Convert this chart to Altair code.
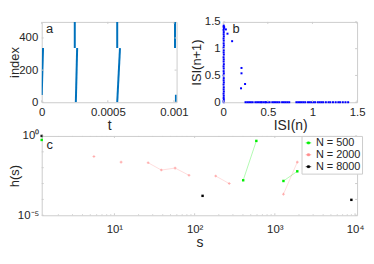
import altair as alt
import pandas as pd

FONT = "Liberation Sans"
TXT = "#262626"
BOX = "#cccccc"
LBL = 11.5

# ---------------- Panel a: raster-like spike lines ----------------
a_seg = [1, 1, 2, 2, 3, 3, 4, 4, 5, 5, 6, 6, 7, 7]
a_k = [0, 1, 0, 1, 0, 1, 0, 1, 0, 1, 0, 1, 0, 1]
a_t = [0.0, 0.00001, 0.00025, 0.00025, 0.000258, 0.000268, 0.000571, 0.000571,
       0.000571, 0.000592, 0.001008, 0.001008, 0.001015, 0.001015]
a_index = [45, 337, 337, 500, 0, 337, 337, 500, 0, 337, 337, 500, 0, 47]
a_xticks = [0, 0.0005, 0.001]
a_yticks = [0, 200, 400]

# ---------------- Panel b: return map ----------------
b_col_x = [0.006, 0.004, 0.007, 0.005, 0.006, 0.004, 0.007, 0.005, 0.006, 0.004,
           0.007, 0.005, 0.006, 0.004, 0.007, 0.005, 0.006, 0.004, 0.007, 0.005,
           0.006, 0.004, 0.007, 0.005, 0.006, 0.004, 0.007, 0.005, 0.006, 0.004,
           0.007, 0.005, 0.006, 0.004, 0.007, 0.005, 0.006]
b_col_y = [0.0, 0.02, 0.05, 0.08, 0.12, 0.16, 0.20, 0.24, 0.28, 0.33,
           0.37, 0.41, 0.45, 0.50, 0.54, 0.58, 0.63, 0.67, 0.71, 0.76,
           0.80, 0.84, 0.89, 0.93, 0.97, 1.02, 1.06, 1.10, 1.15, 1.19,
           1.23, 1.27, 1.31, 1.35, 1.38, 1.41, 1.43]
b_mid_x = [0.011, 0.03, 0.048, 0.10, 0.205, 0.205, 0.20, 0.245]
b_mid_y = [1.40, 1.36, 1.28, 1.14, 0.64, 0.54, 0.26, 0.34]
b_row_x = [0.25, 0.27, 0.29, 0.31, 0.33, 0.36, 0.38, 0.40, 0.42, 0.43, 0.45, 0.47,
           0.48, 0.50, 0.52, 0.55, 0.57, 0.59, 0.61, 0.63, 0.66, 0.68, 0.70, 0.72,
           0.74, 0.82, 0.84, 0.86, 0.88, 0.90, 0.92, 0.95, 0.97, 0.99, 1.01, 1.03,
           1.06, 1.08, 1.10, 1.12, 1.15, 1.18, 1.20, 1.23, 1.26, 1.29, 1.31, 1.34,
           1.37, 1.40]
b_row_y = [0.0, 0.0, 0.0, 0.0, 0.0, 0.0, 0.0, 0.0, 0.0, 0.0, 0.0, 0.0,
           0.0, 0.0, 0.0, 0.0, 0.0, 0.0, 0.0, 0.0, 0.0, 0.0, 0.0, 0.0,
           0.0, 0.0, 0.0, 0.0, 0.0, 0.0, 0.0, 0.0, 0.0, 0.0, 0.0, 0.0,
           0.0, 0.0, 0.0, 0.0, 0.0, 0.0, 0.0, 0.0, 0.0, 0.0, 0.0, 0.0,
           0.0, 0.0]
b_ticks = [0, 0.5, 1, 1.5]

# ---------------- Panel c: h(s) ----------------
s500 = [1.24, 403, 588, 1280, 1905]
h500 = [0.56, 0.00161, 0.487, 0.00145, 0.0059]
g500 = [1, 2, 2, 3, 3]
s2000 = [5.55, 12.1, 26.3, 38.4, 57.1, 85.1, 183, 270, 1280, 1905]
h2000 = [0.0508, 0.0224, 0.0205, 0.00708, 0.00944, 0.00331, 0.00298, 0.001, 0.000214, 0.0224]
g2000 = [1, 2, 3, 3, 3, 3, 4, 4, 5, 5]
s8000 = [1.24, 125.6, 9000]
h8000 = [1.0, 0.000168, 0.000094]
g8000 = [1, 2, 3]
series_names = ["N = 500", "N = 2000", "N = 8000"]
series_colors = ["#00ee00", "#ff8c8c", "#000000"]
c_major_x = [10, 100, 1000, 10000]
c_minor_x = [2, 3, 4, 5, 6, 7, 8, 9, 20, 30, 40, 50, 60, 70, 80, 90,
             200, 300, 400, 500, 600, 700, 800, 900,
             2000, 3000, 4000, 5000, 6000, 7000, 8000, 9000]
c_yticks = [1, 0.1, 0.01, 0.001, 0.0001, 0.00001]


def tick_layers(xvals, yvals, xscale, yscale, xaxis, yaxis, W, H, L):
    layers = []
    if xvals:
        dx = pd.DataFrame({"v": xvals})
        for y0, y1 in ((H, H - L), (0, L)):
            layers.append(alt.Chart(dx).mark_rule(color=BOX, strokeWidth=1).encode(
                x=alt.X("v:Q", scale=xscale, axis=xaxis),
                y=alt.value(y0), y2=alt.value(y1)))
    if yvals:
        dy = pd.DataFrame({"v": yvals})
        for x0, x1 in ((0, L), (W, W - L)):
            layers.append(alt.Chart(dy).mark_rule(color=BOX, strokeWidth=1).encode(
                y=alt.Y("v:Q", scale=yscale, axis=yaxis),
                x=alt.value(x0), x2=alt.value(x1)))
    return layers


def panel_label(txt, x, y):
    return alt.Chart(pd.DataFrame({"lab": [txt]})).mark_text(
        font=FONT, fontSize=13, color=TXT, align="center", baseline="middle"
    ).encode(x=alt.value(x), y=alt.value(y), text="lab:N")


XT = dict(titleFontSize=14)
YT = dict(titleFontSize=13)

# ----- panel a chart
AW, AH = 136, 81
ax_scale = alt.Scale(domain=[0, 0.00102], nice=False, zero=False)
ay_scale = alt.Scale(domain=[0, 500], nice=False)
ax_axis = alt.Axis(title="t", values=a_xticks, labelPadding=4, titlePadding=1, **XT,
                   labelExpr="datum.value == 0 ? '0' : datum.value < 0.0007 ? '0.0005' : '0.001'")
ay_axis = alt.Axis(title="index", values=a_yticks, labelPadding=4, titleX=-20.5, **YT)
df_a = pd.DataFrame({"t": a_t, "index": a_index, "seg": a_seg, "k": a_k})
a_lines = alt.Chart(df_a).mark_line(color="#0072BD", strokeWidth=2, clip=True).encode(
    x=alt.X("t:Q", scale=ax_scale, axis=ax_axis),
    y=alt.Y("index:Q", scale=ay_scale, axis=ay_axis),
    detail="seg:N",
    order="k:Q",
)
panel_a = alt.layer(a_lines,
                    *tick_layers(a_xticks, a_yticks, ax_scale, ay_scale, ax_axis, ay_axis, AW, AH, 2),
                    panel_label("a", 8, 7)).properties(width=AW, height=AH)

# ----- panel b chart
BW, BH = 135, 81
bx_scale = alt.Scale(domain=[0, 1.5], nice=False)
by_scale = alt.Scale(domain=[0, 1.5], nice=False)
bx_axis = alt.Axis(title="ISI(n)", values=b_ticks, format="~g", labelPadding=4, titlePadding=1, **XT)
by_axis = alt.Axis(title="ISI(n+1)", values=b_ticks, format="~g", labelPadding=3, titleX=-20, **YT)
df_b = pd.DataFrame({"x": b_col_x + b_mid_x + b_row_x, "y": b_col_y + b_mid_y + b_row_y})
b_pts = alt.Chart(df_b).mark_square(color="#0000ff", size=4, opacity=1).encode(
    x=alt.X("x:Q", scale=bx_scale, axis=bx_axis),
    y=alt.Y("y:Q", scale=by_scale, axis=by_axis),
)
panel_b = alt.layer(b_pts,
                    *tick_layers(b_ticks, b_ticks, bx_scale, by_scale, bx_axis, by_axis, BW, BH, 2),
                    panel_label("b", 13, 7)).properties(width=BW, height=BH)

# ----- panel c chart
CW, CH = 318, 80
cx_scale = alt.Scale(type="log", domain=[1.24, 10600], nice=False)
cy_scale = alt.Scale(type="log", domain=[0.00001, 1], nice=False)
cx_axis = alt.Axis(
    title="s", values=c_major_x, labelOverlap=False, labelPadding=8, titlePadding=1, **XT,
    labelExpr="datum.value == 10 ? '10¹' : datum.value == 100 ? '10²' : datum.value == 1000 ? '10³' : '10⁴'")
cy_axis = alt.Axis(
    title="h(s)", values=c_yticks, labelOverlap=False, labelPadding=3, titleX=-20.5, **YT,
    labelExpr="datum.value > 0.5 ? '10⁰' : datum.value < 0.00002 ? '10⁻⁵' : ''")
df_c = pd.concat([
    pd.DataFrame({"s": s500, "h": h500, "g": g500, "N": series_names[0]}),
    pd.DataFrame({"s": s2000, "h": h2000, "g": g2000, "N": series_names[1]}),
    pd.DataFrame({"s": s8000, "h": h8000, "g": g8000, "N": series_names[2]}),
], ignore_index=True)
color = alt.Color("N:N", scale=alt.Scale(domain=series_names, range=series_colors),
                  legend=alt.Legend(orient="none", legendX=262, legendY=115, title=None,
                                    symbolType="M-1,0H1M-0.35,-0.35H0.35V0.35H-0.35Z",
                                    symbolSize=30, symbolStrokeWidth=0.8, symbolOpacity=1,
                                    labelFont=FONT, labelFontSize=11, labelColor=TXT,
                                    strokeColor=BOX, fillColor="white", padding=1.5,
                                    rowPadding=0, labelOffset=2))
c_x = alt.X("s:Q", scale=cx_scale, axis=cx_axis)
c_y = alt.Y("h:Q", scale=cy_scale, axis=cy_axis)
c_lines = alt.Chart(df_c).mark_line(strokeWidth=0.6, opacity=0.5).encode(
    x=c_x, y=c_y, color=color, detail="g:N")
c_sq = alt.Chart(df_c).transform_filter("datum.N != 'N = 2000'").mark_square(
    size=6, opacity=1, clip=False).encode(x=c_x, y=c_y, color=color)
c_cross = alt.Chart(df_c).transform_filter("datum.N == 'N = 2000'").mark_point(
    shape="cross", filled=True, size=7, opacity=0.7, clip=False).encode(x=c_x, y=c_y, color=color)
panel_c = alt.layer(c_lines, c_sq, c_cross,
                    *tick_layers(c_major_x, c_yticks, cx_scale, cy_scale, cx_axis, cy_axis, CW, CH, 2),
                    *tick_layers(c_minor_x, [], cx_scale, cy_scale, cx_axis, cy_axis, CW, CH, 1),
                    panel_label("c", 8, 9)).properties(width=CW, height=CH)

top = alt.hconcat(panel_a, panel_b, spacing=0)
chart = alt.vconcat(top, panel_c, spacing=-4).properties(
    padding={"left": 0, "top": 6, "right": 0, "bottom": 0}
).configure_view(stroke=BOX, strokeWidth=1).configure_axis(
    labelFont=FONT, titleFont=FONT, labelFontSize=LBL,
    titleFontWeight="normal", labelColor=TXT, titleColor=TXT,
    ticks=False, domain=False, grid=False, labelFlush=False,
)

chart.save("out.html", embed_options={"renderer": "svg", "actions": False})
